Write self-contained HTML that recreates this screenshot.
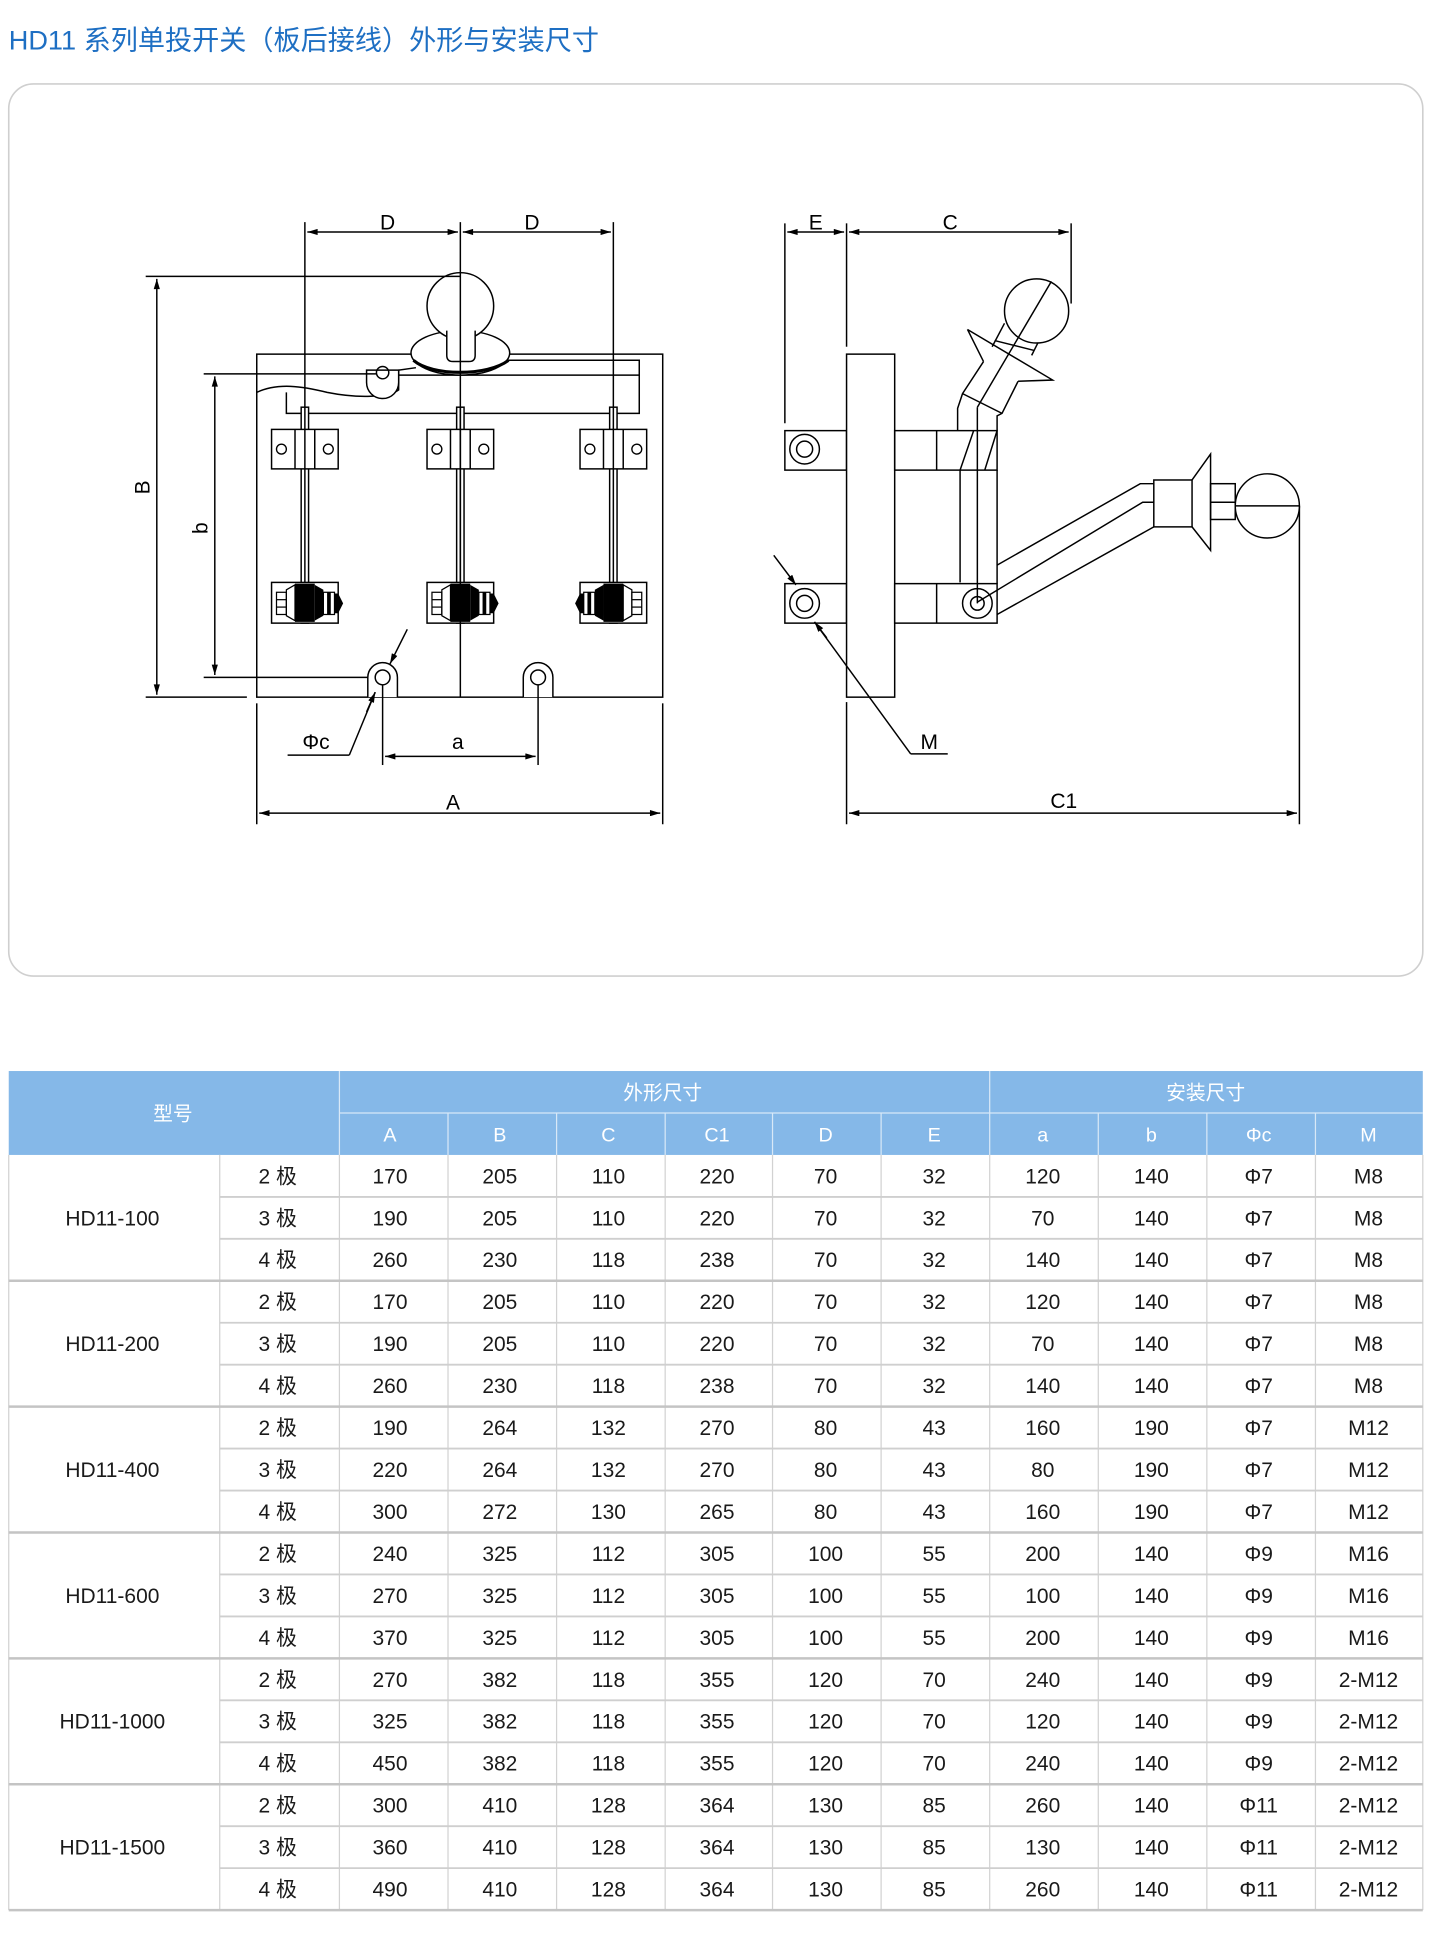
<!DOCTYPE html>
<html><head><meta charset="utf-8"><style>
html,body{margin:0;padding:0;background:#fff;}
svg{display:block;}
text{font-family:"Liberation Sans","Noto Sans CJK SC",sans-serif;}
</style></head><body>
<svg width="1434" height="1936" viewBox="0 0 1162 1569" xmlns="http://www.w3.org/2000/svg">
<defs>
<marker id="ar" viewBox="0 0 10 6" refX="10" refY="3" markerWidth="12" markerHeight="5" orient="auto-start-reverse" markerUnits="userSpaceOnUse"><path d="M0,0 L10,3 L0,6 Z" fill="#000"/></marker>
<g id="clip">
<rect x="-27" y="348" width="54" height="32" fill="#fff" stroke="#000" stroke-width="1.2"/>
<line x1="-8" y1="348" x2="-8" y2="380" stroke="#000" stroke-width="1.2"/>
<line x1="8" y1="348" x2="8" y2="380" stroke="#000" stroke-width="1.2"/>
<circle cx="-19" cy="364" r="4" fill="none" stroke="#000" stroke-width="1.1"/>
<circle cx="19" cy="364" r="4" fill="none" stroke="#000" stroke-width="1.1"/>
</g>
<g id="nut">
<rect x="-27" y="472" width="54" height="33" fill="#fff" stroke="#000" stroke-width="1.2"/>
<rect x="-23" y="480" width="8" height="18" fill="none" stroke="#000" stroke-width="1"/>
<line x1="-23" y1="486" x2="-15" y2="486" stroke="#000"/><line x1="-23" y1="492" x2="-15" y2="492" stroke="#000"/>
<path d="M-15,478 L-8,474 L-8,503 L-15,499 Z" fill="none" stroke="#000"/>
<rect x="-8" y="473" width="16" height="31" fill="#000"/>
<path d="M8,474 L15,478 L15,499 L8,503 Z" fill="#000"/>
<rect x="15" y="480" width="9" height="18" fill="#fff" stroke="#000"/>
<rect x="18" y="480" width="3" height="18" fill="#000"/>
<path d="M24,481 L27,481 L31,489 L27,497 L24,497 Z" fill="#000"/>
</g>
</defs>

<text x="7" y="40" font-size="22" fill="#1e6fc3">HD11 系列单投开关（板后接线）外形与安装尺寸</text>
<rect x="7" y="68" width="1146" height="723" rx="20" fill="#fff" stroke="#cfcfcf" stroke-width="1.3"/>

<g stroke="#000" stroke-width="1.2" fill="none">
<rect x="208" y="287" width="329" height="278" fill="#fff"/>
<path d="M410,292 L518,292 L518,335 L232,335 L232,318"/>
<path d="M323,304 L518,304"/>
<path d="M208,318 C225,310 245,313 265,318 C290,323 315,322 323,316 L323,300 L337,298"/>
<path d="M297,300 L297,310 A13,13 0 0 0 323,310 L323,300 Z" fill="#fff"/>
<circle cx="310" cy="302" r="5"/>
<ellipse cx="373" cy="286" rx="40" ry="18" fill="#fff"/>
<path d="M335,292 C350,305 395,305 412,292" stroke-width="2.5"/>
<circle cx="373" cy="248" r="27" fill="#fff"/>
<path d="M362,268 L362,288 Q362,293 367,293 L380,293 Q385,293 385,288 L385,268" fill="#fff"/>
<rect x="244" y="330" width="6" height="175" fill="#fff"/>
<rect x="370" y="330" width="6" height="175" fill="#fff"/>
<rect x="494" y="330" width="6" height="175" fill="#fff"/>
</g>
<use href="#clip" transform="translate(247,0)"/>
<use href="#clip" transform="translate(373,0)"/>
<use href="#clip" transform="translate(497,0)"/>
<g stroke="#000" stroke-width="1.2" fill="none">
<line x1="247" y1="330" x2="247" y2="505"/><line x1="373" y1="330" x2="373" y2="505"/><line x1="497" y1="330" x2="497" y2="505"/>
</g>
<use href="#nut" transform="translate(247,0)"/>
<use href="#nut" transform="translate(373,0)"/>
<use href="#nut" transform="translate(497,0) scale(-1,1)"/>
<g stroke="#000" stroke-width="1.2" fill="none">
<line x1="247" y1="180" x2="247" y2="330"/>
<line x1="373" y1="180" x2="373" y2="565"/>
<line x1="497" y1="180" x2="497" y2="330"/>
<line x1="249" y1="188" x2="371" y2="188" marker-start="url(#ar)" marker-end="url(#ar)"/>
<line x1="375" y1="188" x2="495" y2="188" marker-start="url(#ar)" marker-end="url(#ar)"/>
<line x1="118" y1="224" x2="373" y2="224"/>
<line x1="118" y1="565" x2="200" y2="565"/>
<line x1="127" y1="226" x2="127" y2="563" marker-start="url(#ar)" marker-end="url(#ar)"/>
<line x1="165" y1="303" x2="305" y2="303"/>
<line x1="165" y1="549" x2="305" y2="549"/>
<line x1="174" y1="305" x2="174" y2="547" marker-start="url(#ar)" marker-end="url(#ar)"/>
<path d="M298,565 L298,549 A12,12 0 0 1 322,549 L322,565" fill="#fff"/>
<circle cx="310" cy="549" r="6"/>
<path d="M424,565 L424,549 A12,12 0 0 1 448,549 L448,565" fill="#fff"/>
<circle cx="436" cy="549" r="6"/>
<line x1="310" y1="555" x2="310" y2="620"/>
<line x1="436" y1="555" x2="436" y2="620"/>
<line x1="312" y1="613" x2="434" y2="613" marker-start="url(#ar)" marker-end="url(#ar)"/>
<line x1="330" y1="510" x2="316" y2="538" marker-end="url(#ar)"/>
<line x1="304" y1="561" x2="283" y2="612"/>
<line x1="297" y1="577" x2="304" y2="561" marker-end="url(#ar)"/>
<line x1="283" y1="612" x2="233" y2="612"/>
<line x1="208" y1="570" x2="208" y2="668"/>
<line x1="537" y1="570" x2="537" y2="668"/>
<line x1="210" y1="659" x2="535" y2="659" marker-start="url(#ar)" marker-end="url(#ar)"/>

<line x1="636" y1="181" x2="636" y2="343"/>
<line x1="686" y1="181" x2="686" y2="281"/>
<line x1="686" y1="569" x2="686" y2="668"/>
<line x1="868" y1="181" x2="868" y2="246"/>
<line x1="1053" y1="410" x2="1053" y2="668"/>
<line x1="638" y1="188" x2="684" y2="188" marker-start="url(#ar)" marker-end="url(#ar)"/>
<line x1="688" y1="188" x2="866" y2="188" marker-start="url(#ar)" marker-end="url(#ar)"/>
<line x1="688" y1="659" x2="1051" y2="659" marker-start="url(#ar)" marker-end="url(#ar)"/>
<rect x="636" y="349" width="50" height="32" fill="#fff"/>
<circle cx="652" cy="364" r="12"/><circle cx="652" cy="364" r="6.5"/>
<rect x="636" y="473" width="50" height="32" fill="#fff"/>
<circle cx="652" cy="489" r="12"/><circle cx="652" cy="489" r="6.5"/>
<rect x="686" y="287" width="39" height="278" fill="#fff"/>
<rect x="725" y="349" width="83" height="32"/>
<line x1="759" y1="349" x2="759" y2="381"/>
<line x1="778" y1="381" x2="789" y2="349"/>
<line x1="798" y1="381" x2="808" y2="349"/>
<rect x="725" y="473" width="83" height="32" fill="#fff"/>
<line x1="759" y1="473" x2="759" y2="505"/>
<circle cx="792" cy="489" r="12"/><circle cx="792" cy="489" r="5.5"/>
<line x1="778" y1="381" x2="778" y2="472"/>
<line x1="808" y1="381" x2="808" y2="473"/>
<line x1="792" y1="330" x2="792" y2="489"/>
<path d="M776,349 L776,331 L780,319 L797,293"/>
<path d="M808,349 L808,337 L812,335 L825,309"/>
<line x1="780" y1="319" x2="812" y2="335"/>
<path d="M784,267 L797,293 M784,267 L853,308 L825,309"/>
<line x1="814" y1="262" x2="804" y2="281"/>
<line x1="842" y1="276" x2="836" y2="288"/>
<line x1="806" y1="276" x2="838" y2="284"/>
<ellipse cx="840" cy="252" rx="26" ry="26" fill="#fff"/>
<line x1="792" y1="330" x2="852" y2="228"/>
<path d="M808,458 L924,392 L935,392"/>
<path d="M792,488 L926,407 L935,407"/>
<path d="M808,498 L935,427"/>
<rect x="935" y="389" width="31" height="38"/>
<path d="M966,389 L981,368 L981,446 L966,427"/>
<rect x="981" y="392" width="20" height="29"/>
<line x1="981" y1="407" x2="1001" y2="407"/>
<ellipse cx="1027" cy="410" rx="26" ry="26" fill="#fff"/>
<line x1="1001" y1="410" x2="1053" y2="410"/>
<line x1="627" y1="450" x2="645" y2="474" marker-end="url(#ar)"/>
<line x1="660" y1="504" x2="738" y2="611"/>
<line x1="670" y1="517" x2="660" y2="504" marker-end="url(#ar)"/>
<line x1="738" y1="611" x2="768" y2="611"/>
</g>
<g font-size="17" fill="#000" text-anchor="middle">
<text x="314" y="186">D</text><text x="431" y="186">D</text>
<text x="0" y="0" transform="translate(121,395) rotate(-90)">B</text>
<text x="0" y="0" transform="translate(168,428) rotate(-90)">b</text>
<text x="371" y="607">a</text><text x="256" y="607">Φc</text>
<text x="367" y="656">A</text>
<text x="661" y="186">E</text><text x="770" y="186">C</text>
<text x="753" y="607">M</text><text x="862" y="655">C1</text>
</g>

<rect x="7" y="868" width="1146" height="68" fill="#85b8e8"/>
<g stroke="#d8e8f7" stroke-width="1">
<line x1="275" y1="868" x2="275" y2="936"/><line x1="802" y1="868" x2="802" y2="936"/>
<line x1="275" y1="902" x2="1153" y2="902"/>
<line x1="363" y1="902" x2="363" y2="936"/><line x1="451" y1="902" x2="451" y2="936"/>
<line x1="539" y1="902" x2="539" y2="936"/><line x1="626" y1="902" x2="626" y2="936"/>
<line x1="714" y1="902" x2="714" y2="936"/><line x1="890" y1="902" x2="890" y2="936"/>
<line x1="978" y1="902" x2="978" y2="936"/><line x1="1066" y1="902" x2="1066" y2="936"/>
</g>
<g font-size="16" fill="#fff" text-anchor="middle">
<text x="140" y="908">型号</text><text x="537" y="891">外形尺寸</text><text x="977" y="891">安装尺寸</text>
<text x="316" y="925">A</text><text x="405" y="925">B</text><text x="493" y="925">C</text><text x="581" y="925">C1</text>
<text x="669" y="925">D</text><text x="757" y="925">E</text><text x="845" y="925">a</text><text x="933" y="925">b</text>
<text x="1020" y="925">Φc</text><text x="1109" y="925">M</text>
</g>
<g stroke="#d2d2d2" stroke-width="1">
<line x1="7" y1="936" x2="7" y2="1548"/><line x1="1153" y1="936" x2="1153" y2="1548"/>
<line x1="178" y1="936" x2="178" y2="1548"/>
<line x1="275" y1="936" x2="275" y2="1548"/><line x1="363" y1="936" x2="363" y2="1548"/>
<line x1="451" y1="936" x2="451" y2="1548"/><line x1="539" y1="936" x2="539" y2="1548"/>
<line x1="626" y1="936" x2="626" y2="1548"/><line x1="714" y1="936" x2="714" y2="1548"/>
<line x1="802" y1="936" x2="802" y2="1548"/><line x1="890" y1="936" x2="890" y2="1548"/>
<line x1="978" y1="936" x2="978" y2="1548"/><line x1="1066" y1="936" x2="1066" y2="1548"/>
<g stroke-width="1.5" stroke="#cfcfcf">
<line x1="178" y1="970" x2="1153" y2="970"/><line x1="178" y1="1004" x2="1153" y2="1004"/>
<line x1="178" y1="1072" x2="1153" y2="1072"/><line x1="178" y1="1106" x2="1153" y2="1106"/>
<line x1="178" y1="1174" x2="1153" y2="1174"/><line x1="178" y1="1208" x2="1153" y2="1208"/>
<line x1="178" y1="1276" x2="1153" y2="1276"/><line x1="178" y1="1310" x2="1153" y2="1310"/>
<line x1="178" y1="1378" x2="1153" y2="1378"/><line x1="178" y1="1412" x2="1153" y2="1412"/>
<line x1="178" y1="1480" x2="1153" y2="1480"/><line x1="178" y1="1514" x2="1153" y2="1514"/>
</g>
<g stroke-width="2" stroke="#c4c4c4">
<line x1="7" y1="1038" x2="1153" y2="1038"/><line x1="7" y1="1140" x2="1153" y2="1140"/>
<line x1="7" y1="1242" x2="1153" y2="1242"/><line x1="7" y1="1344" x2="1153" y2="1344"/>
<line x1="7" y1="1446" x2="1153" y2="1446"/><line x1="7" y1="1548" x2="1153" y2="1548"/>
</g>
</g>
<g font-size="17" fill="#1a1a1a" text-anchor="middle">
<text x="91" y="993">HD11-100</text><text x="91" y="1095">HD11-200</text><text x="91" y="1197">HD11-400</text>
<text x="91" y="1299">HD11-600</text><text x="91" y="1401">HD11-1000</text><text x="91" y="1503">HD11-1500</text>
</g>
<g font-size="17" fill="#1a1a1a" text-anchor="middle">
<text y="959"><tspan x="225">2 极</tspan><tspan x="316">170</tspan><tspan x="405">205</tspan><tspan x="493">110</tspan><tspan x="581">220</tspan><tspan x="669">70</tspan><tspan x="757">32</tspan><tspan x="845">120</tspan><tspan x="933">140</tspan><tspan x="1020">Φ7</tspan><tspan x="1109">M8</tspan></text>
<text y="993"><tspan x="225">3 极</tspan><tspan x="316">190</tspan><tspan x="405">205</tspan><tspan x="493">110</tspan><tspan x="581">220</tspan><tspan x="669">70</tspan><tspan x="757">32</tspan><tspan x="845">70</tspan><tspan x="933">140</tspan><tspan x="1020">Φ7</tspan><tspan x="1109">M8</tspan></text>
<text y="1027"><tspan x="225">4 极</tspan><tspan x="316">260</tspan><tspan x="405">230</tspan><tspan x="493">118</tspan><tspan x="581">238</tspan><tspan x="669">70</tspan><tspan x="757">32</tspan><tspan x="845">140</tspan><tspan x="933">140</tspan><tspan x="1020">Φ7</tspan><tspan x="1109">M8</tspan></text>
<text y="1061"><tspan x="225">2 极</tspan><tspan x="316">170</tspan><tspan x="405">205</tspan><tspan x="493">110</tspan><tspan x="581">220</tspan><tspan x="669">70</tspan><tspan x="757">32</tspan><tspan x="845">120</tspan><tspan x="933">140</tspan><tspan x="1020">Φ7</tspan><tspan x="1109">M8</tspan></text>
<text y="1095"><tspan x="225">3 极</tspan><tspan x="316">190</tspan><tspan x="405">205</tspan><tspan x="493">110</tspan><tspan x="581">220</tspan><tspan x="669">70</tspan><tspan x="757">32</tspan><tspan x="845">70</tspan><tspan x="933">140</tspan><tspan x="1020">Φ7</tspan><tspan x="1109">M8</tspan></text>
<text y="1129"><tspan x="225">4 极</tspan><tspan x="316">260</tspan><tspan x="405">230</tspan><tspan x="493">118</tspan><tspan x="581">238</tspan><tspan x="669">70</tspan><tspan x="757">32</tspan><tspan x="845">140</tspan><tspan x="933">140</tspan><tspan x="1020">Φ7</tspan><tspan x="1109">M8</tspan></text>
<text y="1163"><tspan x="225">2 极</tspan><tspan x="316">190</tspan><tspan x="405">264</tspan><tspan x="493">132</tspan><tspan x="581">270</tspan><tspan x="669">80</tspan><tspan x="757">43</tspan><tspan x="845">160</tspan><tspan x="933">190</tspan><tspan x="1020">Φ7</tspan><tspan x="1109">M12</tspan></text>
<text y="1197"><tspan x="225">3 极</tspan><tspan x="316">220</tspan><tspan x="405">264</tspan><tspan x="493">132</tspan><tspan x="581">270</tspan><tspan x="669">80</tspan><tspan x="757">43</tspan><tspan x="845">80</tspan><tspan x="933">190</tspan><tspan x="1020">Φ7</tspan><tspan x="1109">M12</tspan></text>
<text y="1231"><tspan x="225">4 极</tspan><tspan x="316">300</tspan><tspan x="405">272</tspan><tspan x="493">130</tspan><tspan x="581">265</tspan><tspan x="669">80</tspan><tspan x="757">43</tspan><tspan x="845">160</tspan><tspan x="933">190</tspan><tspan x="1020">Φ7</tspan><tspan x="1109">M12</tspan></text>
<text y="1265"><tspan x="225">2 极</tspan><tspan x="316">240</tspan><tspan x="405">325</tspan><tspan x="493">112</tspan><tspan x="581">305</tspan><tspan x="669">100</tspan><tspan x="757">55</tspan><tspan x="845">200</tspan><tspan x="933">140</tspan><tspan x="1020">Φ9</tspan><tspan x="1109">M16</tspan></text>
<text y="1299"><tspan x="225">3 极</tspan><tspan x="316">270</tspan><tspan x="405">325</tspan><tspan x="493">112</tspan><tspan x="581">305</tspan><tspan x="669">100</tspan><tspan x="757">55</tspan><tspan x="845">100</tspan><tspan x="933">140</tspan><tspan x="1020">Φ9</tspan><tspan x="1109">M16</tspan></text>
<text y="1333"><tspan x="225">4 极</tspan><tspan x="316">370</tspan><tspan x="405">325</tspan><tspan x="493">112</tspan><tspan x="581">305</tspan><tspan x="669">100</tspan><tspan x="757">55</tspan><tspan x="845">200</tspan><tspan x="933">140</tspan><tspan x="1020">Φ9</tspan><tspan x="1109">M16</tspan></text>
<text y="1367"><tspan x="225">2 极</tspan><tspan x="316">270</tspan><tspan x="405">382</tspan><tspan x="493">118</tspan><tspan x="581">355</tspan><tspan x="669">120</tspan><tspan x="757">70</tspan><tspan x="845">240</tspan><tspan x="933">140</tspan><tspan x="1020">Φ9</tspan><tspan x="1109">2-M12</tspan></text>
<text y="1401"><tspan x="225">3 极</tspan><tspan x="316">325</tspan><tspan x="405">382</tspan><tspan x="493">118</tspan><tspan x="581">355</tspan><tspan x="669">120</tspan><tspan x="757">70</tspan><tspan x="845">120</tspan><tspan x="933">140</tspan><tspan x="1020">Φ9</tspan><tspan x="1109">2-M12</tspan></text>
<text y="1435"><tspan x="225">4 极</tspan><tspan x="316">450</tspan><tspan x="405">382</tspan><tspan x="493">118</tspan><tspan x="581">355</tspan><tspan x="669">120</tspan><tspan x="757">70</tspan><tspan x="845">240</tspan><tspan x="933">140</tspan><tspan x="1020">Φ9</tspan><tspan x="1109">2-M12</tspan></text>
<text y="1469"><tspan x="225">2 极</tspan><tspan x="316">300</tspan><tspan x="405">410</tspan><tspan x="493">128</tspan><tspan x="581">364</tspan><tspan x="669">130</tspan><tspan x="757">85</tspan><tspan x="845">260</tspan><tspan x="933">140</tspan><tspan x="1020">Φ11</tspan><tspan x="1109">2-M12</tspan></text>
<text y="1503"><tspan x="225">3 极</tspan><tspan x="316">360</tspan><tspan x="405">410</tspan><tspan x="493">128</tspan><tspan x="581">364</tspan><tspan x="669">130</tspan><tspan x="757">85</tspan><tspan x="845">130</tspan><tspan x="933">140</tspan><tspan x="1020">Φ11</tspan><tspan x="1109">2-M12</tspan></text>
<text y="1537"><tspan x="225">4 极</tspan><tspan x="316">490</tspan><tspan x="405">410</tspan><tspan x="493">128</tspan><tspan x="581">364</tspan><tspan x="669">130</tspan><tspan x="757">85</tspan><tspan x="845">260</tspan><tspan x="933">140</tspan><tspan x="1020">Φ11</tspan><tspan x="1109">2-M12</tspan></text>
</g>
</svg>
</body></html>
